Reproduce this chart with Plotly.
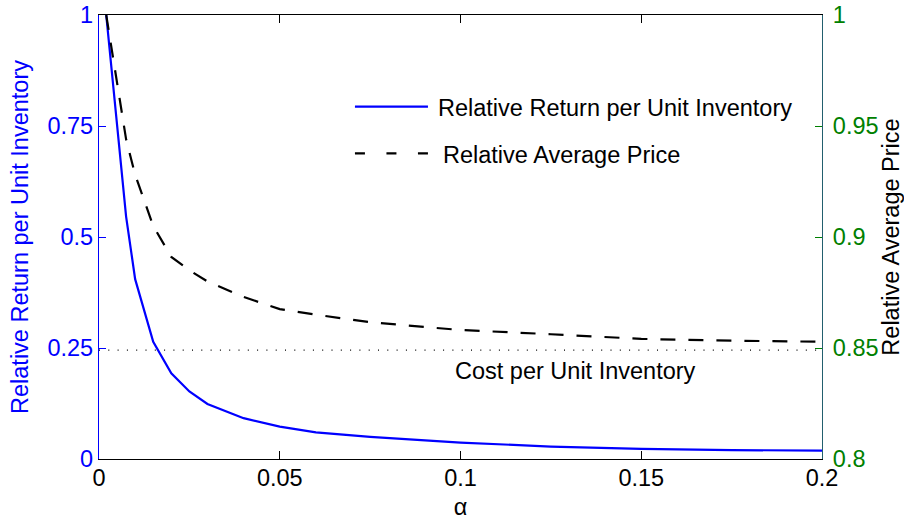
import plotly.graph_objects as go

alpha = [0.002, 0.0075, 0.01, 0.015, 0.02, 0.025, 0.03, 0.04, 0.05, 0.06,
         0.075, 0.1, 0.125, 0.15, 0.175, 0.2]
rel_return = [1.0, 0.546, 0.405, 0.264, 0.193, 0.152, 0.124, 0.092, 0.073,
              0.060, 0.050, 0.037, 0.028, 0.023, 0.020, 0.019]
rel_price = [1.0, 0.944, 0.928, 0.905, 0.891, 0.885, 0.880, 0.873, 0.8675,
             0.865, 0.8616, 0.8581, 0.8562, 0.8541, 0.8533, 0.8528]
cost_x = [0.0, 0.2]
cost_y = [0.245, 0.245]

x_ticks = [0, 0.05, 0.1, 0.15, 0.2]
x_ticktext = ["0", "0.05", "0.1", "0.15", "0.2"]
y_ticks = [0, 0.25, 0.5, 0.75, 1]
y_ticktext = ["0", "0.25", "0.5", "0.75", "1"]
y2_ticks = [0.8, 0.85, 0.9, 0.95, 1.0]
y2_ticktext = ["0.8", "0.85", "0.9", "0.95", "1"]

FONT = "Liberation Sans, Arial, sans-serif"
FS = 23.5
BLUE = "#0000ff"
GREEN = "#008000"

fig = go.Figure()
fig.add_trace(go.Scatter(x=cost_x, y=cost_y, mode="lines",
                         line=dict(color="black", width=1.2, dash="1px,8.3px"),
                         showlegend=False, hoverinfo="skip"))
fig.add_trace(go.Scatter(x=alpha, y=rel_return, mode="lines",
                         name="Relative Return per Unit Inventory",
                         line=dict(color=BLUE, width=2.2), showlegend=False))
fig.add_trace(go.Scatter(x=alpha, y=rel_price, mode="lines", yaxis="y2",
                         name="Relative Average Price",
                         line=dict(color="black", width=2.2, dash="15px,13px"),
                         showlegend=False))

fig.update_layout(
    width=904, height=520,
    margin=dict(l=99, r=82, t=15, b=61, autoexpand=False),
    paper_bgcolor="white", plot_bgcolor="white",
    font=dict(family=FONT, size=FS, color="black"),
    xaxis=dict(range=[0, 0.2], tickvals=x_ticks, ticktext=x_ticktext,
               ticks="inside", ticklen=8, tickcolor="black", tickwidth=1,
               showline=True, linecolor="black", linewidth=1.3, mirror="ticks",
               showgrid=False, zeroline=False, ticklabelstandoff=-2,
               automargin=False,
               tickfont=dict(size=FS, color="black"),
               title=dict(text="α", font=dict(size=FS, color="black"), standoff=12)),
    yaxis=dict(range=[0, 1], tickvals=y_ticks, ticktext=y_ticktext,
               ticks="inside", ticklen=7, tickcolor=BLUE, tickwidth=1,
               showline=True, linecolor=BLUE, linewidth=1.3,
               showgrid=False, zeroline=False, automargin=False,
               tickfont=dict(size=FS, color=BLUE),
               title=dict(text="Relative Return per Unit Inventory",
                          font=dict(size=FS, color=BLUE), standoff=12)),
    yaxis2=dict(range=[0.8, 1.0], tickvals=y2_ticks, ticktext=y2_ticktext,
                overlaying="y", side="right",
                ticks="inside", ticklen=7, tickcolor=GREEN, tickwidth=1,
                showline=True, linecolor="#225f6e", linewidth=1.3,
                showgrid=False, zeroline=False, ticklabelstandoff=5,
                automargin=False,
                tickfont=dict(size=FS, color=GREEN),
                title=dict(text="Relative Average Price",
                           font=dict(size=FS, color="black"), standoff=12)),
)

# legend drawn manually (MATLAB-like layout)
fig.add_shape(type="line", xref="paper", yref="paper",
              x0=0.354, x1=0.455, y0=0.7935, y1=0.7935,
              line=dict(color=BLUE, width=2.2))
fig.add_shape(type="line", xref="paper", yref="paper",
              x0=0.354, x1=0.455, y0=0.6885, y1=0.6885,
              line=dict(color="black", width=2.2, dash="10px,21.5px"))
fig.add_annotation(xref="paper", yref="paper", x=0.4665, y=0.790,
                   text="Relative Return per Unit Inventory", showarrow=False,
                   xanchor="left", yanchor="middle",
                   font=dict(size=FS, color="black"))
fig.add_annotation(xref="paper", yref="paper", x=0.4725, y=0.684,
                   text="Relative Average Price", showarrow=False,
                   xanchor="left", yanchor="middle",
                   font=dict(size=FS, color="black"))
fig.add_annotation(xref="paper", yref="paper", x=0.6584, y=0.198,
                   text="Cost per Unit Inventory", showarrow=False,
                   xanchor="center", yanchor="middle",
                   font=dict(size=FS, color="black"))

fig.write_html("out.html")
